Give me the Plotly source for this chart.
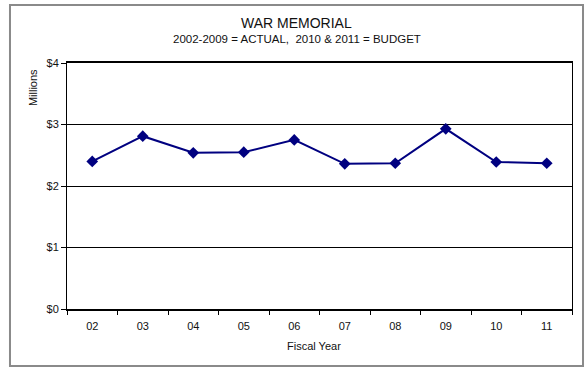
import plotly.graph_objects as go

# Fiscal years (two-digit labels) and annual spending in millions of dollars
fiscal_years = ["02", "03", "04", "05", "06", "07", "08", "09", "10", "11"]
spending_millions = [2.40, 2.81, 2.54, 2.55, 2.75, 2.36, 2.37, 2.93, 2.39, 2.37]

title_text = "WAR MEMORIAL"
subtitle_text = "2002-2009 = ACTUAL,  2010 &amp; 2011 = BUDGET"
y_tick_values = [0, 1, 2, 3, 4]
y_tick_labels = ["$0", "$1", "$2", "$3", "$4"]

NAVY = "#000080"
FONT = "Liberation Sans, Arial, sans-serif"

fig = go.Figure()
fig.add_trace(go.Scatter(
    x=fiscal_years,
    y=spending_millions,
    mode="lines+markers",
    line=dict(color=NAVY, width=2),
    marker=dict(symbol="diamond", size=9, color=NAVY),
    showlegend=False,
    hoverinfo="x+y",
))

fig.update_layout(
    width=585,
    height=368,
    margin=dict(l=67, r=13, t=63, b=59),
    paper_bgcolor="white",
    plot_bgcolor="white",
    font=dict(family=FONT, size=11, color="#111111"),
    xaxis=dict(
        type="category",
        range=[-0.5, len(fiscal_years) - 0.5],
        showgrid=False,
        showline=True,
        linecolor="black",
        linewidth=1.5,
        mirror=True,
        ticks="outside",
        tickson="boundaries",
        ticklen=4,
        tickcolor="black",
        tickfont=dict(size=11),
        ticklabelstandoff=6,
        zeroline=False,
    ),
    yaxis=dict(
        range=[0, 4],
        tickvals=y_tick_values,
        ticktext=y_tick_labels,
        showgrid=True,
        gridcolor="black",
        gridwidth=1,
        showline=True,
        linecolor="black",
        linewidth=1,
        mirror=True,
        ticks="outside",
        ticklen=5,
        tickcolor="black",
        tickfont=dict(size=11),
        zeroline=False,
    ),
)

# Chart-area frame
fig.add_shape(
    type="rect", xref="paper", yref="paper",
    x0=-0.1129, x1=1.0218, y0=-0.2317, y1=1.2358,
    line=dict(color="#8a8a8a", width=2),
    fillcolor="rgba(0,0,0,0)",
    layer="below",
)

fig.add_annotation(
    text=title_text, xref="paper", yref="paper",
    x=0.4545, y=1.1626, xanchor="center", yanchor="middle",
    showarrow=False, font=dict(size=14, color="#111111"),
)
fig.add_annotation(
    text=subtitle_text, xref="paper", yref="paper",
    x=0.4545, y=1.0976, xanchor="center", yanchor="middle",
    showarrow=False, font=dict(size=11.5, color="#111111"),
)
fig.add_annotation(
    text="Millions", xref="paper", yref="paper",
    x=-0.0673, y=0.898, xanchor="center", yanchor="middle",
    textangle=-90, showarrow=False, font=dict(size=11, color="#111111"),
)
fig.add_annotation(
    text="Fiscal Year", xref="paper", yref="paper",
    x=0.489, y=-0.152, xanchor="center", yanchor="middle",
    showarrow=False, font=dict(size=11, color="#111111"),
)

fig.write_html("out.html")
